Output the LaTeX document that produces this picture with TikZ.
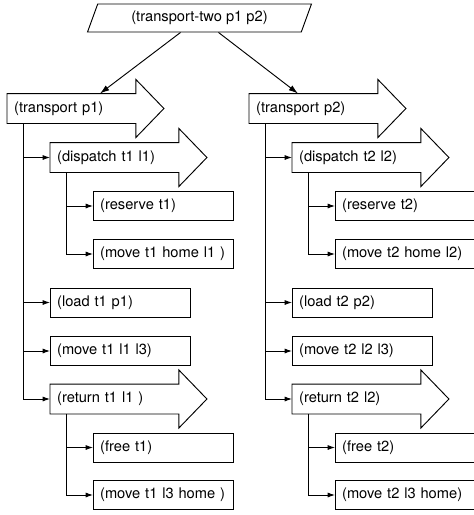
\documentclass[tikz,border=0pt]{standalone}
\usepackage{fontspec}
\setmainfont{TeX Gyre Heros}
\usetikzlibrary{shapes.geometric,calc,positioning,arrows.meta}

\begin{document}
\begin{tikzpicture}[x=0.75pt,y=0.75pt,line width=0.7pt,
  font=\fontsize{11pt}{13pt}\selectfont,
  task/.style={anchor=west,inner xsep=5pt,minimum height=21.75pt,align=left},
  taskbox/.style={task,draw,text width=95pt},
  taskarrow/.style={task,text width=86pt,
    append after command={\pgfextra{\draw (\tikzlastnode.north west) -- (\tikzlastnode.north east) -- ++(0,10.5pt)
      -- ($(\tikzlastnode.east)+(21pt,0)$) -- ($(\tikzlastnode.south east)+(0,-10.5pt)$)
      -- (\tikzlastnode.south east) -- (\tikzlastnode.south west) -- cycle;}}},
  goalbox/.style={draw,trapezium,trapezium left angle=70,trapezium right angle=110,inner xsep=11pt,minimum height=21pt},
  branch/.style={-{Latex[length=5.5pt,width=3.8pt]}},
  split/.style={-{Latex[length=7pt,width=4.5pt]}}]
\useasboundingbox (0,0) rectangle (474,-515);

\node [goalbox] (goal) at (199.5,-18) {(transport-two p1 p2)};

% first package
\node [taskarrow] (tp1) at (7,-108.5) {(transport p1)};
\node [taskarrow] (dp1) at ($(tp1.west)+(43,-49)$) {(dispatch t1 l1)};
\node [taskbox] (rs1) at ($(dp1.west)+(43,-48.5)$) {(reserve t1)};
\node [taskbox] (mh1) at ($(rs1.west)+(0,-48)$) {(move t1 home l1 )};
\node [taskbox] (ld1) at ($(mh1.west)+(-43,-48.5)$) {(load t1 p1)};
\node [taskbox] (mv1) at ($(ld1.west)+(0,-48.5)$) {(move t1 l1 l3)};
\node [taskarrow] (rt1) at ($(mv1.west)+(0,-48)$) {(return t1 l1 )};
\node [taskbox] (fr1) at ($(rt1.west)+(43,-48.5)$) {(free t1)};
\node [taskbox] (mb1) at ($(fr1.west)+(0,-47.5)$) {(move t1 l3 home )};

% second package
\node [taskarrow] (tp2) at ($(tp1.west)+(242,0)$) {(transport p2)};
\node [taskarrow] (dp2) at ($(tp2.west)+(43,-49)$) {(dispatch t2 l2)};
\node [taskbox] (rs2) at ($(dp2.west)+(43,-48.5)$) {(reserve t2)};
\node [taskbox] (mh2) at ($(rs2.west)+(0,-48)$) {(move t2 home l2)};
\node [taskbox] (ld2) at ($(mh2.west)+(-43,-48.5)$) {(load t2 p2)};
\node [taskbox] (mv2) at ($(ld2.west)+(0,-48.5)$) {(move t2 l2 l3)};
\node [taskarrow] (rt2) at ($(mv2.west)+(0,-48)$) {(return t2 l2)};
\node [taskbox] (fr2) at ($(rt2.west)+(43,-48.5)$) {(free t2)};
\node [taskbox] (mb2) at ($(fr2.west)+(0,-47.5)$) {(move t2 l3 home)};

\draw [split] ($(goal.south)+(-19,0)$) -- ($(tp1.north west)+(93,0)$);
\draw [split] ($(goal.south)+(19,0)$) -- ($(tp2.north west)+(49,0)$);

\foreach \i in {1,2} {
  \foreach \c in {dp,ld,mv,rt}
    \draw [branch] ($(tp\i.south west)+(16,0)$) |- (\c\i.west);
  \foreach \c in {rs,mh}
    \draw [branch] ($(dp\i.south west)+(16,0)$) |- (\c\i.west);
  \foreach \c in {fr,mb}
    \draw [branch] ($(rt\i.south west)+(16,0)$) |- (\c\i.west);
}
\end{tikzpicture}
\end{document}
